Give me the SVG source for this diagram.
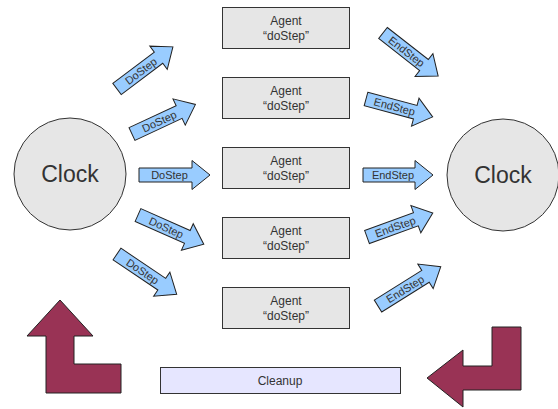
<svg xmlns="http://www.w3.org/2000/svg" width="558" height="409" viewBox="0 0 558 409">
<defs>
<style>
.clock{fill:#e6e6e6;stroke:#333;stroke-width:1}
.agent{fill:#e6e6e6;stroke:#333;stroke-width:1}
.clean{fill:#e6e6ff;stroke:#333;stroke-width:1}
.blue{fill:#99ccff;stroke:#222;stroke-width:1;stroke-linejoin:miter}
.maroon{fill:#993355;stroke:#222;stroke-width:1}
text{font-family:"Liberation Sans",Arial,sans-serif;fill:#333}
.lbl{font-size:11px;text-anchor:middle}
.atxt{font-size:12px;text-anchor:middle}
.ctxt{font-size:23px;text-anchor:middle}
</style>
</defs>
<g id="clock-left"><circle class="clock" cx="70" cy="174" r="56"/><text class="ctxt" x="70" y="182">Clock</text></g>
<g id="clock-right"><circle class="clock" cx="503" cy="175" r="56"/><text class="ctxt" x="503" y="183">Clock</text></g>
<g id="agent1"><rect class="agent" x="222.5" y="7.5" width="127" height="41"/><text class="atxt" x="286" y="25">Agent</text><text class="atxt" x="286" y="40">“doStep”</text></g>
<g id="agent2"><rect class="agent" x="222.5" y="77.5" width="127" height="41"/><text class="atxt" x="286" y="95">Agent</text><text class="atxt" x="286" y="110">“doStep”</text></g>
<g id="agent3"><rect class="agent" x="222.5" y="147.5" width="127" height="41"/><text class="atxt" x="286" y="165">Agent</text><text class="atxt" x="286" y="180">“doStep”</text></g>
<g id="agent4"><rect class="agent" x="222.5" y="217.5" width="127" height="41"/><text class="atxt" x="286" y="235">Agent</text><text class="atxt" x="286" y="250">“doStep”</text></g>
<g id="agent5"><rect class="agent" x="222.5" y="287.5" width="127" height="41"/><text class="atxt" x="286" y="305">Agent</text><text class="atxt" x="286" y="320">“doStep”</text></g>
<g id="cleanup"><rect class="clean" x="160.5" y="367.5" width="240" height="26"/><text class="atxt" x="280" y="385">Cleanup</text></g>
<g id="connectors">
<g transform="translate(117,89) rotate(-37)"><path class="blue" d="M0,-7 H52 V-14.5 L70,0 L52,14.5 V7 H0 Z"/><text class="lbl" x="30" y="4">DoStep</text></g>
<g transform="translate(132,134) rotate(-25)"><path class="blue" d="M0,-7 H52 V-14.5 L70,0 L52,14.5 V7 H0 Z"/><text class="lbl" x="30" y="4">DoStep</text></g>
<g transform="translate(139,175)"><path class="blue" d="M0,-7 H53 V-14.5 L71,0 L53,14.5 V7 H0 Z"/><text class="lbl" x="30.5" y="4">DoStep</text></g>
<g transform="translate(138,215) rotate(24)"><path class="blue" d="M0,-7 H54 V-14.5 L72,0 L54,14.5 V7 H0 Z"/><text class="lbl" x="31" y="4">DoStep</text></g>
<g transform="translate(117,254) rotate(34)"><path class="blue" d="M0,-7 H54 V-14.5 L72,0 L54,14.5 V7 H0 Z"/><text class="lbl" x="31" y="4">DoStep</text></g>
<g transform="translate(383,33) rotate(38)"><path class="blue" d="M0,-7 H52 V-14.5 L70,0 L52,14.5 V7 H0 Z"/><text class="lbl" x="30" y="4">EndStep</text></g>
<g transform="translate(366,99) rotate(15)"><path class="blue" d="M0,-7 H51 V-14.5 L69,0 L51,14.5 V7 H0 Z"/><text class="lbl" x="29.5" y="4">EndStep</text></g>
<g transform="translate(363,175)"><path class="blue" d="M0,-7 H52 V-14.5 L70,0 L52,14.5 V7 H0 Z"/><text class="lbl" x="30" y="4">EndStep</text></g>
<g transform="translate(367,237) rotate(-20)"><path class="blue" d="M0,-7 H52 V-14.5 L70,0 L52,14.5 V7 H0 Z"/><text class="lbl" x="30" y="4">EndStep</text></g>
<g transform="translate(378,306) rotate(-32)"><path class="blue" d="M0,-7 H56 V-14.5 L74,0 L56,14.5 V7 H0 Z"/><text class="lbl" x="32" y="4">EndStep</text></g>
<polygon class="maroon" points="60,300 93,336 74,336 74,364 121,364 121,393 46,393 46,336 27,336"/>
<polygon class="maroon" points="427,378 463,350 463,366 492,366 492,327 521,327 521,390 463,390 463,407"/>
</g>
</svg>
